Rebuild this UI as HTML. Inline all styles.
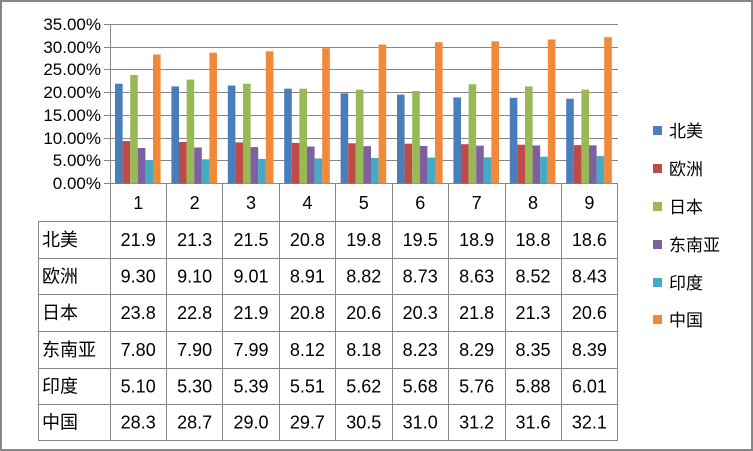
<!DOCTYPE html>
<html><head><meta charset="utf-8"><style>
html,body{margin:0;padding:0;background:#fff}
svg{display:block}
text{font-family:"Liberation Sans","Noto Sans CJK SC",sans-serif;fill:#000}
</style></head><body>
<svg width="753" height="451" xmlns="http://www.w3.org/2000/svg">
<rect x="1" y="1" width="751" height="449" fill="#fff" stroke="#868686" stroke-width="2"/>
<g stroke="#868686" stroke-width="1">
<line x1="104" y1="24.5" x2="618" y2="24.5"/>
<line x1="104" y1="47.5" x2="618" y2="47.5"/>
<line x1="104" y1="69.5" x2="618" y2="69.5"/>
<line x1="104" y1="92.5" x2="618" y2="92.5"/>
<line x1="104" y1="115.5" x2="618" y2="115.5"/>
<line x1="104" y1="138.5" x2="618" y2="138.5"/>
<line x1="104" y1="160.5" x2="618" y2="160.5"/>
<line x1="104" y1="183.5" x2="618" y2="183.5"/>
<line x1="110.5" y1="24" x2="110.5" y2="441"/>
</g>
<g font-size="17" text-anchor="end">
<text x="101" y="30">35.00%</text>
<text x="101" y="53">30.00%</text>
<text x="101" y="75">25.00%</text>
<text x="101" y="98">20.00%</text>
<text x="101" y="121">15.00%</text>
<text x="101" y="144">10.00%</text>
<text x="101" y="166">5.00%</text>
<text x="101" y="189">0.00%</text>
</g>
<!-- bars -->
<g transform="translate(115,183.5) scale(1,-1)"><rect x="0" y="0" width="7.6" height="99.8" fill="#4a7ebb"/><rect x="7.6" y="0" width="7.6" height="42.4" fill="#be4b48"/><rect x="15.2" y="0" width="7.6" height="108.5" fill="#98b954"/><rect x="22.8" y="0" width="7.6" height="35.5" fill="#7d60a0"/><rect x="30.4" y="0" width="7.6" height="23.2" fill="#46aac5"/><rect x="38" y="0" width="7.6" height="129.0" fill="#f08a3a"/></g>
<g transform="translate(171.4,183.5) scale(1,-1)"><rect x="0" y="0" width="7.6" height="97.1" fill="#4a7ebb"/><rect x="7.6" y="0" width="7.6" height="41.5" fill="#be4b48"/><rect x="15.2" y="0" width="7.6" height="103.9" fill="#98b954"/><rect x="22.8" y="0" width="7.6" height="36.0" fill="#7d60a0"/><rect x="30.4" y="0" width="7.6" height="24.2" fill="#46aac5"/><rect x="38" y="0" width="7.6" height="130.8" fill="#f08a3a"/></g>
<g transform="translate(227.8,183.5) scale(1,-1)"><rect x="0" y="0" width="7.6" height="98.0" fill="#4a7ebb"/><rect x="7.6" y="0" width="7.6" height="41.1" fill="#be4b48"/><rect x="15.2" y="0" width="7.6" height="99.8" fill="#98b954"/><rect x="22.8" y="0" width="7.6" height="36.4" fill="#7d60a0"/><rect x="30.4" y="0" width="7.6" height="24.6" fill="#46aac5"/><rect x="38" y="0" width="7.6" height="132.2" fill="#f08a3a"/></g>
<g transform="translate(284.2,183.5) scale(1,-1)"><rect x="0" y="0" width="7.6" height="94.8" fill="#4a7ebb"/><rect x="7.6" y="0" width="7.6" height="40.6" fill="#be4b48"/><rect x="15.2" y="0" width="7.6" height="94.8" fill="#98b954"/><rect x="22.8" y="0" width="7.6" height="37.0" fill="#7d60a0"/><rect x="30.4" y="0" width="7.6" height="25.1" fill="#46aac5"/><rect x="38" y="0" width="7.6" height="135.3" fill="#f08a3a"/></g>
<g transform="translate(340.6,183.5) scale(1,-1)"><rect x="0" y="0" width="7.6" height="90.2" fill="#4a7ebb"/><rect x="7.6" y="0" width="7.6" height="40.2" fill="#be4b48"/><rect x="15.2" y="0" width="7.6" height="93.9" fill="#98b954"/><rect x="22.8" y="0" width="7.6" height="37.3" fill="#7d60a0"/><rect x="30.4" y="0" width="7.6" height="25.6" fill="#46aac5"/><rect x="38" y="0" width="7.6" height="139.0" fill="#f08a3a"/></g>
<g transform="translate(397,183.5) scale(1,-1)"><rect x="0" y="0" width="7.6" height="88.9" fill="#4a7ebb"/><rect x="7.6" y="0" width="7.6" height="39.8" fill="#be4b48"/><rect x="15.2" y="0" width="7.6" height="92.5" fill="#98b954"/><rect x="22.8" y="0" width="7.6" height="37.5" fill="#7d60a0"/><rect x="30.4" y="0" width="7.6" height="25.9" fill="#46aac5"/><rect x="38" y="0" width="7.6" height="141.3" fill="#f08a3a"/></g>
<g transform="translate(453.4,183.5) scale(1,-1)"><rect x="0" y="0" width="7.6" height="86.1" fill="#4a7ebb"/><rect x="7.6" y="0" width="7.6" height="39.3" fill="#be4b48"/><rect x="15.2" y="0" width="7.6" height="99.3" fill="#98b954"/><rect x="22.8" y="0" width="7.6" height="37.8" fill="#7d60a0"/><rect x="30.4" y="0" width="7.6" height="26.2" fill="#46aac5"/><rect x="38" y="0" width="7.6" height="142.2" fill="#f08a3a"/></g>
<g transform="translate(509.8,183.5) scale(1,-1)"><rect x="0" y="0" width="7.6" height="85.7" fill="#4a7ebb"/><rect x="7.6" y="0" width="7.6" height="38.8" fill="#be4b48"/><rect x="15.2" y="0" width="7.6" height="97.1" fill="#98b954"/><rect x="22.8" y="0" width="7.6" height="38.1" fill="#7d60a0"/><rect x="30.4" y="0" width="7.6" height="26.8" fill="#46aac5"/><rect x="38" y="0" width="7.6" height="144.0" fill="#f08a3a"/></g>
<g transform="translate(566.2,183.5) scale(1,-1)"><rect x="0" y="0" width="7.6" height="84.8" fill="#4a7ebb"/><rect x="7.6" y="0" width="7.6" height="38.4" fill="#be4b48"/><rect x="15.2" y="0" width="7.6" height="93.9" fill="#98b954"/><rect x="22.8" y="0" width="7.6" height="38.2" fill="#7d60a0"/><rect x="30.4" y="0" width="7.6" height="27.4" fill="#46aac5"/><rect x="38" y="0" width="7.6" height="146.3" fill="#f08a3a"/></g>
<!-- table -->
<g stroke="#868686" stroke-width="1">
<line x1="38" y1="221.5" x2="618" y2="221.5"/>
<line x1="38" y1="258.5" x2="618" y2="258.5"/>
<line x1="38" y1="294.5" x2="618" y2="294.5"/>
<line x1="38" y1="331.5" x2="618" y2="331.5"/>
<line x1="38" y1="368.5" x2="618" y2="368.5"/>
<line x1="38" y1="404.5" x2="618" y2="404.5"/>
<line x1="38" y1="440.5" x2="618" y2="440.5"/>
<line x1="38.5" y1="221" x2="38.5" y2="441"/>
<line x1="166.5" y1="183" x2="166.5" y2="441"/>
<line x1="222.5" y1="183" x2="222.5" y2="441"/>
<line x1="279.5" y1="183" x2="279.5" y2="441"/>
<line x1="335.5" y1="183" x2="335.5" y2="441"/>
<line x1="392.5" y1="183" x2="392.5" y2="441"/>
<line x1="448.5" y1="183" x2="448.5" y2="441"/>
<line x1="505.5" y1="183" x2="505.5" y2="441"/>
<line x1="561.5" y1="183" x2="561.5" y2="441"/>
<line x1="617.5" y1="183" x2="617.5" y2="441"/>
</g>
<g font-size="18" text-anchor="middle">
<text x="138.2" y="209">1</text><text x="194.6" y="209">2</text><text x="251" y="209">3</text><text x="307.4" y="209">4</text><text x="363.8" y="209">5</text><text x="420.2" y="209">6</text><text x="476.6" y="209">7</text><text x="533" y="209">8</text><text x="589.4" y="209">9</text>
<text x="138.2" y="246">21.9</text><text x="194.6" y="246">21.3</text><text x="251" y="246">21.5</text><text x="307.4" y="246">20.8</text><text x="363.8" y="246">19.8</text><text x="420.2" y="246">19.5</text><text x="476.6" y="246">18.9</text><text x="533" y="246">18.8</text><text x="589.4" y="246">18.6</text>
<text x="138.2" y="282.5">9.30</text><text x="194.6" y="282.5">9.10</text><text x="251" y="282.5">9.01</text><text x="307.4" y="282.5">8.91</text><text x="363.8" y="282.5">8.82</text><text x="420.2" y="282.5">8.73</text><text x="476.6" y="282.5">8.63</text><text x="533" y="282.5">8.52</text><text x="589.4" y="282.5">8.43</text>
<text x="138.2" y="319">23.8</text><text x="194.6" y="319">22.8</text><text x="251" y="319">21.9</text><text x="307.4" y="319">20.8</text><text x="363.8" y="319">20.6</text><text x="420.2" y="319">20.3</text><text x="476.6" y="319">21.8</text><text x="533" y="319">21.3</text><text x="589.4" y="319">20.6</text>
<text x="138.2" y="356">7.80</text><text x="194.6" y="356">7.90</text><text x="251" y="356">7.99</text><text x="307.4" y="356">8.12</text><text x="363.8" y="356">8.18</text><text x="420.2" y="356">8.23</text><text x="476.6" y="356">8.29</text><text x="533" y="356">8.35</text><text x="589.4" y="356">8.39</text>
<text x="138.2" y="392.5">5.10</text><text x="194.6" y="392.5">5.30</text><text x="251" y="392.5">5.39</text><text x="307.4" y="392.5">5.51</text><text x="363.8" y="392.5">5.62</text><text x="420.2" y="392.5">5.68</text><text x="476.6" y="392.5">5.76</text><text x="533" y="392.5">5.88</text><text x="589.4" y="392.5">6.01</text>
<text x="138.2" y="428.5">28.3</text><text x="194.6" y="428.5">28.7</text><text x="251" y="428.5">29.0</text><text x="307.4" y="428.5">29.7</text><text x="363.8" y="428.5">30.5</text><text x="420.2" y="428.5">31.0</text><text x="476.6" y="428.5">31.2</text><text x="533" y="428.5">31.6</text><text x="589.4" y="428.5">32.1</text>
</g>
<g font-size="18">
<text x="42" y="246">北美</text>
<text x="42" y="282.5">欧洲</text>
<text x="42" y="319">日本</text>
<text x="42" y="356">东南亚</text>
<text x="42" y="392.5">印度</text>
<text x="42" y="428.5">中国</text>
</g>
<g font-size="17">
<rect x="653" y="126" width="9" height="9" fill="#4a7ebb"/><text x="669" y="137">北美</text>
<rect x="653" y="164" width="9" height="9" fill="#be4b48"/><text x="669" y="175">欧洲</text>
<rect x="653" y="202" width="9" height="9" fill="#98b954"/><text x="669" y="213">日本</text>
<rect x="653" y="240" width="9" height="9" fill="#7d60a0"/><text x="669" y="251">东南亚</text>
<rect x="653" y="278" width="9" height="9" fill="#46aac5"/><text x="669" y="289">印度</text>
<rect x="653" y="315" width="9" height="9" fill="#f08a3a"/><text x="669" y="326">中国</text>
</g>
</svg>
</body></html>
